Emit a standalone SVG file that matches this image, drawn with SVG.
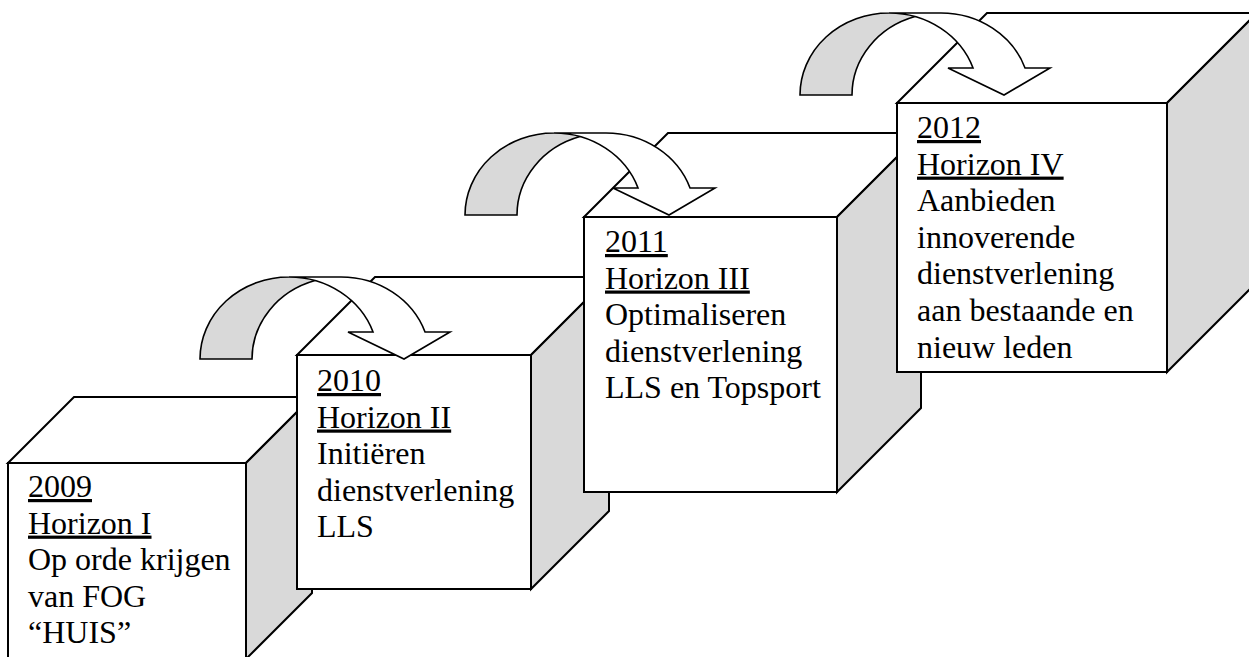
<svg xmlns="http://www.w3.org/2000/svg" xmlns:xlink="http://www.w3.org/1999/xlink" width="1249" height="657" viewBox="0 0 1249 657">
  <style>
    .face { fill: #ffffff; stroke: #000000; stroke-width: 2; stroke-linejoin: miter; }
    .side { fill: #d9d9d9; stroke: #000000; stroke-width: 2; stroke-linejoin: miter; }
    .lbl { font-family: "Liberation Serif", "Times New Roman", serif; font-size: 32px; fill: #000000; }
    .u { text-decoration: underline; }
    .afront { fill: #ffffff; stroke: none; }
    .aback { fill: #d9d9d9; stroke: none; }
    .aline { fill: none; stroke: #000000; stroke-width: 1.6; stroke-linejoin: miter; }
  </style>
  <defs>
    <g id="curvedArrow">
      <path class="afront" d="M 204,0 L 148,-27 L 173.04,-27 A 89 82 0 0 0 89,-82 L 141,-82 A 89 82 0 0 1 225.04,-27 L 250,-27 Z"/>
      <path class="aback" d="M 115,-78.4 A 89 82 0 0 0 52,0 L 0,0 A 89 82 0 0 1 115,-78.4 Z"/>
      <path class="aline" d="M 115,-78.4 A 89 82 0 0 0 52,0 L 0,0 A 89 82 0 0 1 89,-82 L 141,-82 A 89 82 0 0 1 225.04,-27 L 250,-27 L 204,0 L 148,-27 L 173.04,-27 A 89 82 0 0 0 89,-82"/>
    </g>
  </defs>
  <rect x="0" y="0" width="1249" height="657" fill="#ffffff"/>

  <g id="cube2009">
    <polygon class="face" points="8,463 74,397 312,397 246,463"/>
    <polygon class="side" points="246,463 312,397 312,593 246,659"/>
    <rect class="face" x="8" y="463" width="238" height="196"/>
    <text class="lbl" x="28" y="497"><tspan class="u">2009</tspan></text>
    <text class="lbl" x="28" y="533.6"><tspan class="u">Horizon I</tspan></text>
    <text class="lbl" x="28" y="570.2">Op orde krijgen</text>
    <text class="lbl" x="28" y="606.8">van FOG</text>
    <text class="lbl" x="28" y="643.4">“HUIS”</text>
  </g>

  <g id="cube2010">
    <polygon class="face" points="297,355 375,277 609,277 531,355"/>
    <polygon class="side" points="531,355 609,277 609,511 531,589"/>
    <rect class="face" x="297" y="355" width="234" height="234"/>
    <text class="lbl" x="317" y="391"><tspan class="u">2010</tspan></text>
    <text class="lbl" x="317" y="427.5"><tspan class="u">Horizon II</tspan></text>
    <text class="lbl" x="317" y="464">Initiëren</text>
    <text class="lbl" x="317" y="500.5">dienstverlening</text>
    <text class="lbl" x="317" y="537">LLS</text>
  </g>

  <g id="cube2011">
    <polygon class="face" points="584,217 668,133 921,133 837,217"/>
    <polygon class="side" points="837,217 921,133 921,408 837,492"/>
    <rect class="face" x="584" y="217" width="253" height="275"/>
    <text class="lbl" x="605" y="252"><tspan class="u">2011</tspan></text>
    <text class="lbl" x="605" y="288.5"><tspan class="u">Horizon III</tspan></text>
    <text class="lbl" x="605" y="325">Optimaliseren</text>
    <text class="lbl" x="605" y="361.5">dienstverlening</text>
    <text class="lbl" x="605" y="398">LLS en Topsport</text>
  </g>

  <g id="cube2012">
    <polygon class="face" points="897,103 987,13 1257,13 1167,103"/>
    <polygon class="side" points="1167,103 1257,13 1257,282 1167,372"/>
    <rect class="face" x="897" y="103" width="270" height="269"/>
    <text class="lbl" x="917" y="138"><tspan class="u">2012</tspan></text>
    <text class="lbl" x="917" y="174.6"><tspan class="u">Horizon IV</tspan></text>
    <text class="lbl" x="917" y="211.2">Aanbieden</text>
    <text class="lbl" x="917" y="247.8">innoverende</text>
    <text class="lbl" x="917" y="284.4">dienstverlening</text>
    <text class="lbl" x="917" y="321">aan bestaande en</text>
    <text class="lbl" x="917" y="357.6">nieuw leden</text>
  </g>

  <g id="connectors">
    <use id="arrow1" xlink:href="#curvedArrow" href="#curvedArrow" transform="translate(200,359)"/>
    <use id="arrow2" xlink:href="#curvedArrow" href="#curvedArrow" transform="translate(465,215)"/>
    <use id="arrow3" xlink:href="#curvedArrow" href="#curvedArrow" transform="translate(800,95)"/>
  </g>
</svg>
